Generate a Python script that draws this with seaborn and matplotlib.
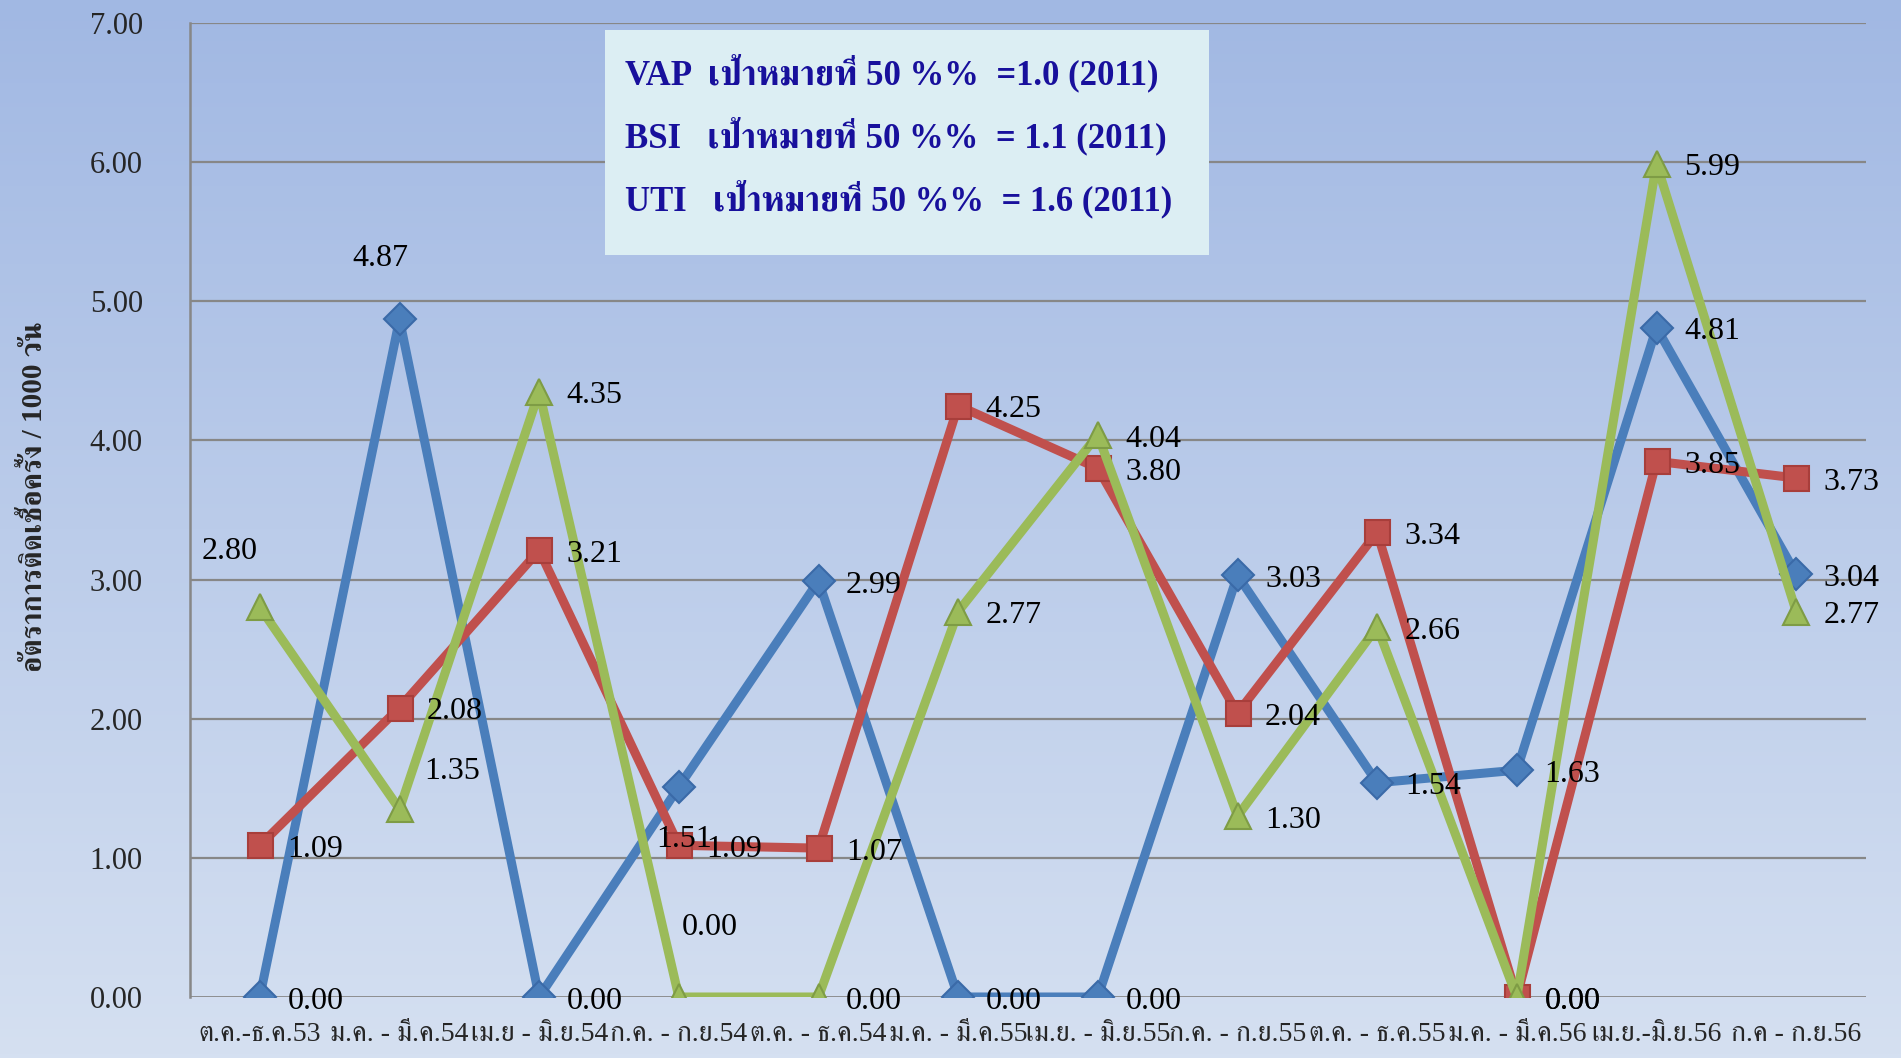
import numpy as np
import pandas as pd
import matplotlib
matplotlib.use("Agg")
import matplotlib.pyplot as plt
import seaborn as sns
from matplotlib import font_manager as fm
from matplotlib.ft2font import FT2Font

# ---------------- data ----------------
periods = ["ต.ค.-ธ.ค.53", "ม.ค. - มี.ค.54", "เม.ย - มิ.ย.54", "ก.ค. - ก.ย.54",
           "ต.ค. - ธ.ค.54", "ม.ค. - มี.ค.55", "เม.ย. - มิ.ย.55", "ก.ค. - ก.ย.55",
           "ต.ค. - ธ.ค.55", "ม.ค. - มี.ค.56", "เม.ย.-มิ.ย.56", "ก.ค - ก.ย.56"]
vap = [0.00, 4.87, 0.00, 1.51, 2.99, 0.00, 0.00, 3.03, 1.54, 1.63, 4.81, 3.04]
bsi = [1.09, 2.08, 3.21, 1.09, 1.07, 4.25, 3.80, 2.04, 3.34, 0.00, 3.85, 3.73]
uti = [2.80, 1.35, 4.35, 0.00, 0.00, 2.77, 4.04, 1.30, 2.66, 0.00, 5.99, 2.77]
series_names = ["VAP", "BSI", "UTI"]
y_ticks = [0, 1, 2, 3, 4, 5, 6, 7]
y_label = "อัตราการติดเชื้อครั้ง / 1000 วัน"
note_lines = ["VAP  เป้าหมายที่ 50 %%  =1.0 (2011)",
              "BSI   เป้าหมายที่ 50 %%  = 1.1 (2011)",
              "UTI   เป้าหมายที่ 50 %%  = 1.6 (2011)"]

# ---------------- fonts ----------------
def find_thai_font(prefer_serif=True):
    cands = []
    for f in fm.fontManager.ttflist:
        try:
            cm = FT2Font(f.fname).get_charmap()
        except Exception:
            continue
        if 0x0E01 in cm and 0x0E35 in cm:
            cands.append(f.name)
    cands = list(dict.fromkeys(cands))
    if prefer_serif:
        serif = [c for c in cands if "Serif" in c]
        if serif:
            return serif[0]
    return cands[0] if cands else None

thai = find_thai_font()

sns.set_theme(style="white")
fam = ["Liberation Serif"] + ([thai] if thai else []) + ["DejaVu Sans"]
plt.rcParams["font.family"] = fam

df = pd.DataFrame({"period": periods * 3,
                   "value": vap + bsi + uti,
                   "series": np.repeat(series_names, len(periods))})
df["x"] = np.tile(np.arange(len(periods)), 3)

colors = {"VAP": "#4A7EBB", "BSI": "#C0504D", "UTI": "#9BBB59"}
edge = {"VAP": "#3A6AA8", "BSI": "#A83E3B", "UTI": "#7E9C45"}
markers = {"VAP": "D", "BSI": "s", "UTI": "^"}
msize = {"VAP": 16, "BSI": 18, "UTI": 19}

W, H = 1901, 1058
fig = plt.figure(figsize=(W / 100, H / 100), dpi=100)

# gradient background
bg = fig.add_axes([0, 0, 1, 1], zorder=-10)
top = np.array([0xA1, 0xB8, 0xE3]) / 255
bot = np.array([0xD5, 0xE0, 0xF1]) / 255
t = np.linspace(0, 1, 256)[:, None]
grad = (top[None, :] * (1 - t) + bot[None, :] * t)[:, None, :]
bg.imshow(grad, aspect="auto", extent=[0, 1, 0, 1])
bg.axis("off")

left, right = 190 / W, 1866 / W
y0px, y7px = 997, 23
ax = fig.add_axes([left, (H - y0px) / H, right - left, (y0px - y7px) / H])
ax.set_facecolor("none")

for name in series_names:
    sub = df[df["series"] == name]
    sns.lineplot(data=sub, x="x", y="value", ax=ax, color=colors[name],
                 linewidth=6.5, marker=markers[name], markersize=msize[name],
                 markeredgecolor=edge[name], markeredgewidth=1.5,
                 legend=False, zorder=3, sort=False)

ax.set_xlim(-0.5, len(periods) - 0.5)
ax.set_ylim(0, 7)
ax.set_yticks(y_ticks)
ax.set_yticklabels([f"{v:.2f}" for v in y_ticks], fontsize=22,
                   family=["Liberation Serif", "DejaVu Sans"])
ax.grid(False)
for v in y_ticks[1:]:
    ax.axhline(v, color="#878787", lw=1.6, zorder=1)
ax.axhline(0, color="#878787", lw=2.0, zorder=1)

ax.set_xticks(np.arange(len(periods)))
ax.set_xticklabels(periods, fontsize=20)
ax.set_xticks(np.arange(len(periods) + 1) - 0.5, minor=True)
ax.tick_params(axis="x", which="major", length=0, pad=18)
ax.tick_params(axis="x", which="minor", length=46, width=1.5,
               color="#878787", direction="out")
ax.tick_params(axis="y", length=0, pad=34)
for s in ["top", "right", "bottom"]:
    ax.spines[s].set_visible(False)
ax.spines["left"].set_color("#878787")
ax.spines["left"].set_linewidth(1.8)
ax.set_xlabel("")
ax.set_ylabel("")

fig.text(35 / W, 1 - 497 / H, y_label, rotation=90, ha="center", va="center",
         fontsize=21, fontweight="bold")

# data labels: default right of point
default_off = (40, -3)
special = {("VAP", 1): (-14, 44), ("VAP", 3): (4, -38),
           ("UTI", 0): (-22, 40), ("UTI", 1): (38, 27), ("UTI", 3): (22, 50)}
for name, vals in zip(series_names, [vap, bsi, uti]):
    for i, v in enumerate(vals):
        off = special.get((name, i), default_off)
        ax.annotate(f"{v:.2f}", (i, v), xytext=off, textcoords="offset points",
                    ha="center", va="center", fontsize=23, color="black",
                    zorder=5, annotation_clip=False)

# note box
bx0, bx1, by0, by1 = 605, 1209, 30, 255
fig.patches.append(plt.Rectangle((bx0 / W, 1 - by1 / H), (bx1 - bx0) / W,
                                 (by1 - by0) / H, transform=fig.transFigure,
                                 facecolor="#DCEEF3", edgecolor="none", zorder=6))
for k, line in enumerate(note_lines):
    fig.text(625 / W, 1 - (73 + 63 * k) / H, line, ha="left", va="center",
             fontsize=25, fontweight="bold", color="#18109C", zorder=7)

fig.savefig("out.png", dpi=100)
